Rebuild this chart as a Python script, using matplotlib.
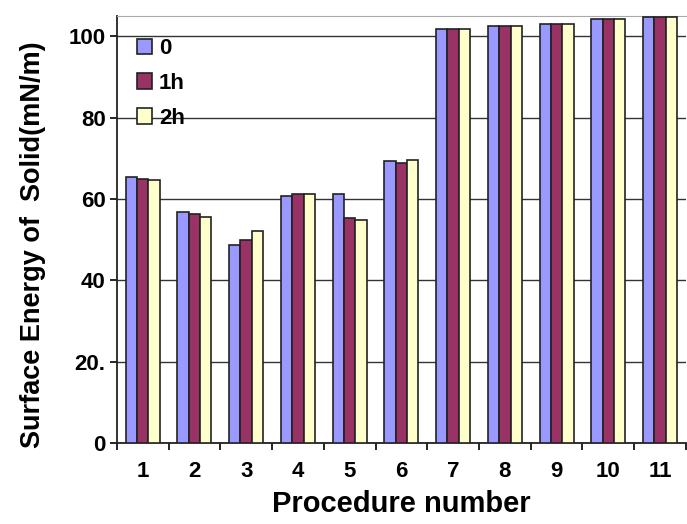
import numpy as np
import matplotlib.pyplot as plt

# Surface energy per procedure, three ageing times
procedures = [str(i) for i in range(1, 12)]
series_names = ['0', '1h', '2h']
energy_0h = [65.4, 56.8, 48.8, 60.7, 61.2, 69.3, 101.9, 102.5, 103.1, 104.2, 104.7]
energy_1h = [65.0, 56.4, 50.0, 61.2, 55.2, 68.9, 101.9, 102.5, 103.1, 104.2, 104.7]
energy_2h = [64.6, 55.6, 52.1, 61.2, 54.8, 69.7, 101.9, 102.5, 103.1, 104.2, 104.7]
y_ticks = [0, 20, 40, 60, 80, 100]
y_tick_labels = ['0', '20.', '40', '60', '80', '100']

colors = ['#9999FF', '#993366', '#FFFFCC']

plt.rcParams['font.family'] = ['Liberation Sans Narrow', 'Liberation Sans', 'DejaVu Sans']
plt.rcParams['font.weight'] = 'bold'
plt.rcParams['axes.labelweight'] = 'bold'

fig = plt.figure(figsize=(6.87, 5.24), dpi=100)
ax = fig.add_axes([0.170, 0.1546, 0.8285, 0.815])

x = np.arange(len(procedures))
width = 0.22
for k, (name, vals) in enumerate(zip(series_names, [energy_0h, energy_1h, energy_2h])):
    ax.bar(x + (k - 1) * width, vals, width, color=colors[k], edgecolor='#222222',
           linewidth=1.2, label=name, zorder=3)

ax.set_xlim(-0.5, len(procedures) - 0.5)
ax.set_ylim(0, 105)

ax.set_yticks(y_ticks)
ax.set_yticklabels(y_tick_labels, fontsize=16)
ax.yaxis.grid(True, color='#333333', linewidth=1.0, zorder=0)

ax.set_xticks(x)
ax.set_xticklabels(procedures, fontsize=16)
ax.set_xticks(np.arange(-0.5, len(procedures)), minor=True)
ax.tick_params(axis='x', which='major', length=0, pad=13)
ax.tick_params(axis='x', which='minor', length=5, width=1.2, direction='out')
ax.tick_params(axis='y', length=5, width=1.2, direction='out', pad=3)

for side in ['left', 'bottom']:
    ax.spines[side].set_color('#222222')
    ax.spines[side].set_linewidth(1.3)
ax.spines['top'].set_color('#aaaaaa')
ax.spines['right'].set_visible(False)

ax.set_xlabel('Procedure number', fontsize=21, labelpad=6)
ax.set_ylabel('Surface Energy of  Solid(mN/m)', fontsize=19.5, labelpad=16)
ax.yaxis.label.set_y(0.465)

leg = ax.legend(loc='upper left', bbox_to_anchor=(0.0, 0.995), frameon=False,
                fontsize=16, handlelength=0.7, handleheight=0.7, handletextpad=0.3,
                labelspacing=0.62, borderaxespad=0.5)

plt.savefig('out.png', dpi=100)
